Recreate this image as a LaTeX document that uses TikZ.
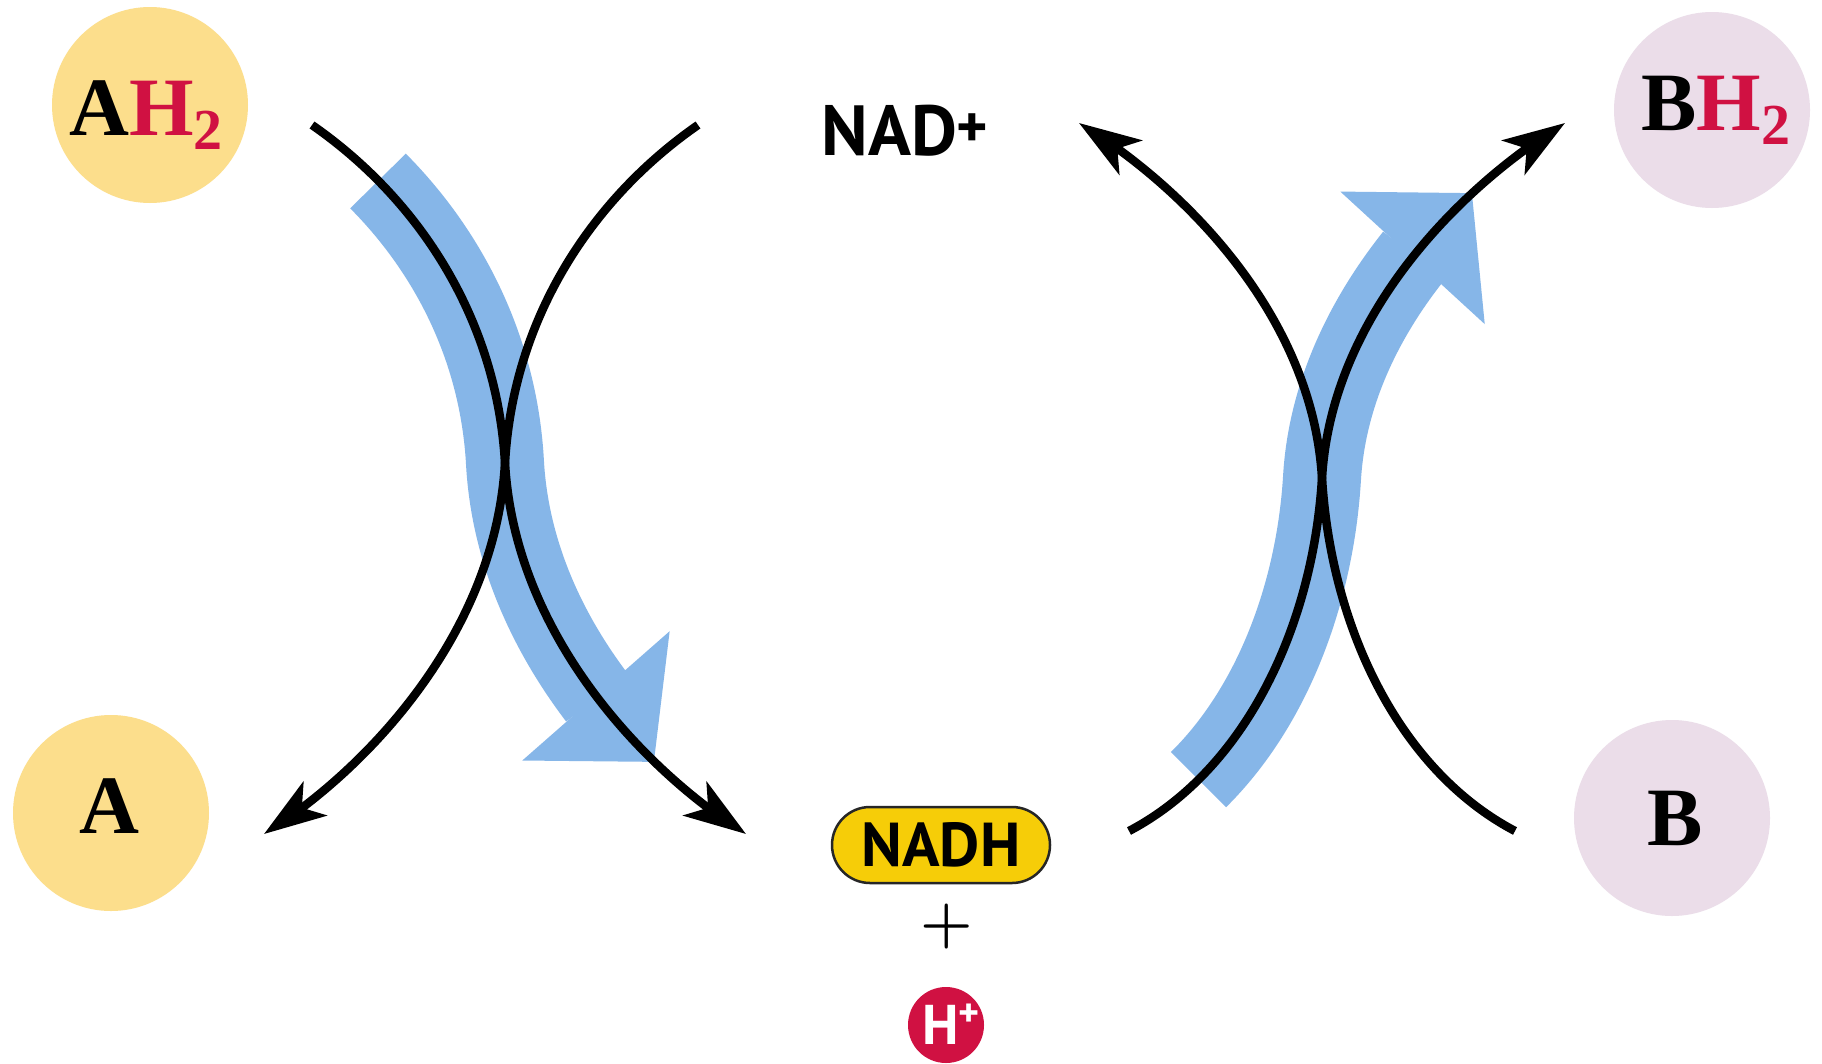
\documentclass[tikz,border=0pt]{standalone}
\usepackage{fontspec}
\usetikzlibrary{arrows.meta,bending}
\newfontfamily\serifb{Liberation Serif}
\newfontfamily\sansb{PT Sans}
\definecolor{ayellow}{RGB}{252,222,140}
\definecolor{bpink}{RGB}{235,221,233}
\definecolor{hred}{RGB}{208,17,66}
\definecolor{bandblue}{RGB}{134,182,232}
\definecolor{nadhyellow}{RGB}{246,205,8}
\begin{document}
\begin{tikzpicture}[x=1pt,y=-1pt,
  molc/.style={circle, minimum size=196pt, inner sep=0pt, draw=none},
  lbl/.style={inner sep=0pt, anchor=base},
  molfont/.style={font=\serifb\bfseries\fontsize{83}{83}\selectfont},
  sansfont/.style={font=\sansb\bfseries\fontsize{#1}{#1}\selectfont},
  rxn/.style={line width=8.5pt, draw=black, -{Stealth[length=62pt,width=41pt,inset=16pt,flex]}},
  band/.style={line width=78pt, draw=bandblue, -{Triangle[length=88pt,width=191pt]}}
]
\fill[white] (0,0) rectangle (1822,1063);
\useasboundingbox (0,0) rectangle (1822,1063);

% molecule circles
\node[molc, fill=ayellow] (ah2) at (150,105) {};
\node[molc, fill=ayellow] (a) at (111,813) {};
\node[molc, fill=bpink] (bh2) at (1712,110) {};
\node[molc, fill=bpink] (b) at (1672,818) {};

\node[lbl, molfont] (ah2t) at (146,135) {A\textcolor{hred}{H\raisebox{-14pt}{\fontsize{58}{58}\selectfont 2}}};
\node[lbl, molfont] (at) at (109,833) {A};
\node[lbl, molfont] (bh2t) at (1716,130) {B\textcolor{hred}{H\raisebox{-14pt}{\fontsize{58}{58}\selectfont 2}}};
\node[lbl, molfont] (bt) at (1675,845) {B};

% NAD+ / NADH / H+
\node[lbl, sansfont=71] (nad) at (905,155) {NAD\raisebox{8pt}{\fontsize{60}{60}\selectfont +}};
\node[draw=black!85, line width=2.5pt, fill=nadhyellow, rounded corners=38pt,
      minimum width=218pt, minimum height=76pt, inner sep=0pt,
      text height=42pt, text depth=0pt, sansfont=62] (nadh) at (941,845) {NADH};
\node[inner sep=0pt, font=\bfseries\fontsize{60}{60}\selectfont] (plus) at (947,927) {+};
\node[circle, fill=hred, minimum size=76pt, inner sep=0pt] (hp) at (946,1025) {};
\node[lbl, text=white, sansfont=56] (hpt) at (951,1044) {H\raisebox{18pt}{\fontsize{40}{40}\selectfont +}};

% blue flow arrows
\coordinate (bl0) at (378,181);
\coordinate (blm) at (505,463);
\coordinate (bl1) at (654,762);
\draw[band] (bl0) .. controls (450.5,254) and (499,351.5) .. (blm)
            .. controls (512,587) and (581,691) .. (bl1);
\coordinate (br0) at (1198.5,779.6);
\coordinate (brm) at (1322,478);
\coordinate (br1) at (1472,193);
\draw[band] (br0) .. controls (1272,707) and (1315,594) .. (brm)
            .. controls (1329,360) and (1399,261) .. (br1);

% black reaction arcs, left pair
\coordinate (l1s) at (312,125);
\coordinate (lx) at (505,463);
\coordinate (l1e) at (746,834);
\coordinate (l2s) at (698,125);
\coordinate (l2e) at (264,834);
\draw[rxn] (l1s) .. controls (420,200) and (497,320) .. (lx)
           .. controls (515,640) and (652,776) .. (l1e);
\draw[rxn] (l2s) .. controls (590,200) and (513,320) .. (lx)
           .. controls (495,640) and (358,776) .. (l2e);

% black reaction arcs, right pair
\coordinate (r1s) at (1129,831);
\coordinate (rx) at (1322,478);
\coordinate (r1e) at (1565,123);
\coordinate (r2s) at (1515,831);
\coordinate (r2e) at (1079,123);
\draw[rxn] (r1s) .. controls (1245,770) and (1313,627) .. (rx)
           .. controls (1332,309) and (1470,180) .. (r1e);
\draw[rxn] (r2s) .. controls (1399,770) and (1331,627) .. (rx)
           .. controls (1312,309) and (1174,180) .. (r2e);
\end{tikzpicture}
\end{document}
